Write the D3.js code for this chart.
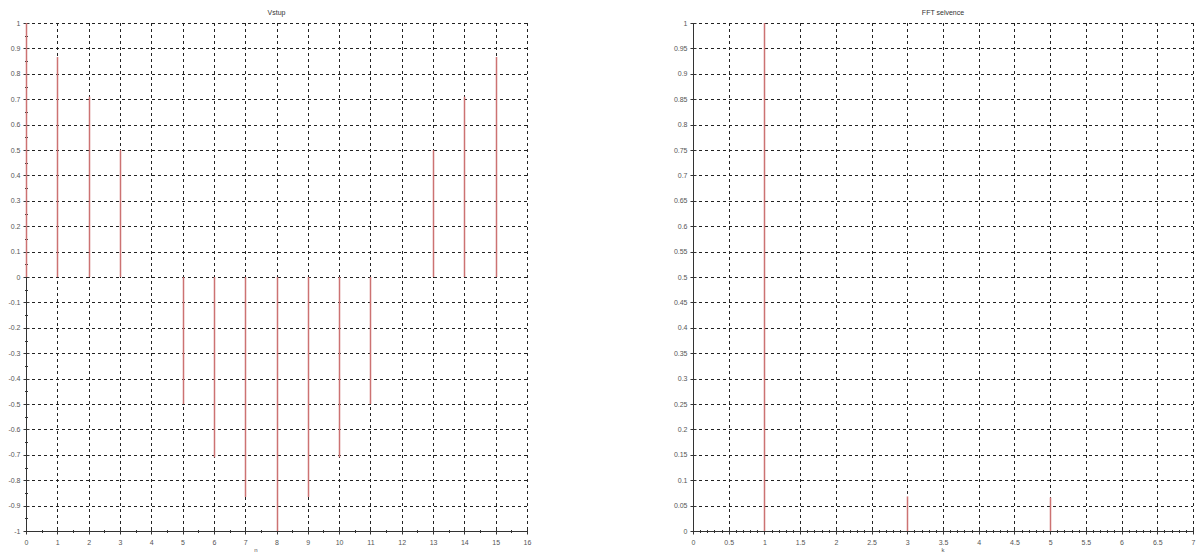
<!DOCTYPE html>
<html>
<head>
<meta charset="utf-8">
<script src="https://cdn.jsdelivr.net/npm/d3@7"></script>
<style>
    body { margin: 0; background: #fff; }
    svg { display: block; font-family: "Liberation Sans", Arial, sans-serif; }
    .grid line { stroke: #222; stroke-width: 1; stroke-dasharray: 3, 3; }
    .tickLabel { font-size: 7px; fill: #555; }
    .title { font-size: 7px; fill: #333; }
</style>
</head>
<body>
<div id="chart"></div>
<script>
// Vstup (input) samples
const inputN = [0, 1, 2, 3, 4, 5, 6, 7, 8, 9, 10, 11, 12, 13, 14, 15];
const inputValues = [1, 0.866, 0.71, 0.5, 0, -0.5, -0.71, -0.866, -1, -0.866, -0.71, -0.5, 0, 0.5, 0.71, 0.866];
const inputXTicks = d3.range(0, 17, 1);
const inputYTicks = d3.range(-10, 11, 1).map((d) => d / 10);

// FFT spectrum
const fftK = [0, 1, 2, 3, 4, 5, 6, 7];
const fftValues = [0, 1, 0, 0.068, 0, 0.066, 0, 0];
const fftXTicks = d3.range(0, 15, 1).map((d) => d / 2);
const fftYTicks = d3.range(0, 21, 1).map((d) => d / 20);

const width = 1201;
const height = 554;
const stemColor = "#cc7272";

const svg = d3
    .select("#chart")
    .append("svg")
    .attr("width", width)
    .attr("height", height);

function drawPlot(opt) {
    const g = svg.append("g");
    const x = d3.scaleLinear().domain(opt.xDomain).range(opt.xRange);
    const y = d3.scaleLinear().domain(opt.yDomain).range(opt.yRange);

    // dashed grid
    const grid = g.append("g").attr("class", "grid");
    grid.selectAll(".gx")
        .data(opt.xTicks.filter((d) => d !== opt.xDomain[0]))
        .enter()
        .append("line")
        .attr("x1", (d) => Math.round(x(d)) + 0.5)
        .attr("x2", (d) => Math.round(x(d)) + 0.5)
        .attr("y1", y(opt.yDomain[1]))
        .attr("y2", y(opt.yDomain[0]));
    grid.selectAll(".gy")
        .data(opt.yTicks.filter((d) => d !== opt.yDomain[0]))
        .enter()
        .append("line")
        .attr("y1", (d) => Math.round(y(d)) + 0.5)
        .attr("y2", (d) => Math.round(y(d)) + 0.5)
        .attr("x1", x(opt.xDomain[0]))
        .attr("x2", x(opt.xDomain[1]));

    // axes lines
    const x0 = Math.round(x(opt.xDomain[0])) + 0.5;
    const yb = Math.round(y(opt.yDomain[0])) + 0.5;
    g.append("line")
        .attr("x1", x(opt.xDomain[0]))
        .attr("x2", x(opt.xDomain[1]))
        .attr("y1", yb)
        .attr("y2", yb)
        .attr("stroke", "#333");
    g.append("line")
        .attr("x1", x0)
        .attr("x2", x0)
        .attr("y1", y(opt.yDomain[1]))
        .attr("y2", y(opt.yDomain[0]))
        .attr("stroke", "#333");

    // x ticks
    const xMinor = [];
    for (let i = 0; i < opt.xTicks.length - 1; i++) {
        const a = opt.xTicks[i];
        const b = opt.xTicks[i + 1];
        for (let j = 1; j <= opt.xMinorN; j++) xMinor.push(a + ((b - a) * j) / (opt.xMinorN + 1));
    }
    g.selectAll(".xmin")
        .data(xMinor)
        .enter()
        .append("line")
        .attr("x1", (d) => Math.round(x(d)) + 0.5)
        .attr("x2", (d) => Math.round(x(d)) + 0.5)
        .attr("y1", yb - 1.5)
        .attr("y2", yb + 1.5)
        .attr("stroke", "#333");
    g.selectAll(".xmaj")
        .data(opt.xTicks)
        .enter()
        .append("line")
        .attr("x1", (d) => Math.round(x(d)) + 0.5)
        .attr("x2", (d) => Math.round(x(d)) + 0.5)
        .attr("y1", yb - 3)
        .attr("y2", yb + 3)
        .attr("stroke", "#333");
    g.selectAll(".xlab")
        .data(opt.xTicks)
        .enter()
        .append("text")
        .attr("class", "tickLabel")
        .attr("x", (d) => x(d) + 0.5)
        .attr("y", yb + 13)
        .attr("text-anchor", "middle")
        .text((d) => d);

    // y ticks
    const yMinor = [];
    for (let i = 0; i < opt.yTicks.length - 1; i++) {
        const a = opt.yTicks[i];
        const b = opt.yTicks[i + 1];
        for (let j = 1; j <= opt.yMinorN; j++) yMinor.push(a + ((b - a) * j) / (opt.yMinorN + 1));
    }
    g.selectAll(".ymin")
        .data(yMinor)
        .enter()
        .append("line")
        .attr("y1", (d) => Math.round(y(d)) + 0.5)
        .attr("y2", (d) => Math.round(y(d)) + 0.5)
        .attr("x1", x0 - 1.5)
        .attr("x2", x0 + 1.5)
        .attr("stroke", "#333");
    g.selectAll(".ymaj")
        .data(opt.yTicks)
        .enter()
        .append("line")
        .attr("y1", (d) => Math.round(y(d)) + 0.5)
        .attr("y2", (d) => Math.round(y(d)) + 0.5)
        .attr("x1", x0 - 3)
        .attr("x2", x0 + 3)
        .attr("stroke", "#333");
    g.selectAll(".ylab")
        .data(opt.yTicks)
        .enter()
        .append("text")
        .attr("class", "tickLabel")
        .attr("x", x0 - 6)
        .attr("y", (d) => y(d) + 2.5)
        .attr("text-anchor", "end")
        .text((d) => d);

    // stems
    g.selectAll(".stem")
        .data(opt.xs.map((d, i) => ({ x: d, v: opt.vs[i] })).filter((d) => d.v !== 0))
        .enter()
        .append("line")
        .attr("x1", (d) => Math.round(x(d.x)) + 0.5)
        .attr("x2", (d) => Math.round(x(d.x)) + 0.5)
        .attr("y1", y(0))
        .attr("y2", (d) => y(d.v))
        .attr("stroke", stemColor)
        .attr("stroke-width", 1.5);

    // title and axis label
    g.append("text")
        .attr("class", "title")
        .attr("x", (opt.xRange[0] + opt.xRange[1]) / 2)
        .attr("y", 15)
        .attr("text-anchor", "middle")
        .text(opt.title);
    g.append("text")
        .attr("class", "tickLabel")
        .style("font-size", "6px")
        .attr("x", opt.labelX)
        .attr("y", 552)
        .attr("text-anchor", "middle")
        .text(opt.xLabel);
}

drawPlot({
    xDomain: [0, 16],
    yDomain: [-1, 1],
    xRange: [26, 527],
    yRange: [531, 23],
    xTicks: inputXTicks,
    yTicks: inputYTicks,
    xMinorN: 1,
    yMinorN: 1,
    xs: inputN,
    vs: inputValues,
    title: "Vstup",
    xLabel: "n",
    labelX: 256,
});

drawPlot({
    xDomain: [0, 7],
    yDomain: [0, 1],
    xRange: [693, 1193],
    yRange: [531, 23],
    xTicks: fftXTicks,
    yTicks: fftYTicks,
    xMinorN: 4,
    yMinorN: 0,
    xs: fftK,
    vs: fftValues,
    title: "FFT selvence",
    xLabel: "k",
    labelX: 943,
});
</script>
</body>
</html>
